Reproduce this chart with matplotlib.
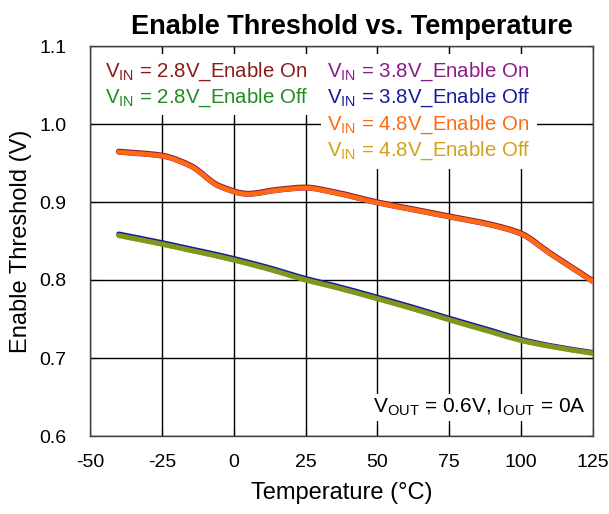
#!/usr/bin/env python3

import numpy as np
import matplotlib
matplotlib.use('Agg')
import matplotlib.pyplot as plt
from matplotlib.path import Path
from matplotlib.patches import PathPatch
from matplotlib.lines import Line2D

plt.rcParams['font.family'] = ['Liberation Sans', 'DejaVu Sans']
plt.rcParams['mathtext.fontset'] = 'custom'
plt.rcParams['mathtext.rm'] = 'Liberation Sans'
plt.rcParams['axes.unicode_minus'] = False

# temperature sweep (degC)
temps = [-40, -25, -15, -5, 5, 15, 25, 35, 50, 62.5, 75, 90, 100, 110, 125]

# enable threshold (V) per input voltage
on_28 = [0.965, 0.960, 0.947, 0.921, 0.911, 0.916, 0.919, 0.913, 0.900, 0.891, 0.882, 0.871, 0.860, 0.835, 0.799]
on_38 = [0.964, 0.959, 0.946, 0.920, 0.910, 0.915, 0.918, 0.912, 0.899, 0.890, 0.881, 0.870, 0.859, 0.834, 0.798]
on_48 = [0.964, 0.959, 0.946, 0.920, 0.910, 0.915, 0.918, 0.912, 0.899, 0.890, 0.881, 0.870, 0.859, 0.834, 0.798]
off_28 = [0.857, 0.846, 0.838, 0.830, 0.821, 0.811, 0.800, 0.791, 0.776, 0.763, 0.749, 0.733, 0.7225, 0.715, 0.706]
off_38 = [0.859, 0.848, 0.840, 0.832, 0.823, 0.813, 0.802, 0.793, 0.778, 0.765, 0.751, 0.735, 0.724, 0.716, 0.707]
off_48 = [0.857, 0.846, 0.838, 0.830, 0.821, 0.811, 0.800, 0.791, 0.776, 0.763, 0.749, 0.733, 0.7225, 0.715, 0.706]

xticks = [-50, -25, 0, 25, 50, 75, 100, 125]
yticks = [0.6, 0.7, 0.8, 0.9, 1.0, 1.1]


def smooth_path(x, y):
    # monotone cubic (Fritsch-Carlson) segments written as bezier curves
    x = np.asarray(x, float)
    y = np.asarray(y, float)
    h = np.diff(x)
    d = np.diff(y) / h
    m = np.zeros_like(y)
    m[0], m[-1] = d[0], d[-1]
    for k in range(1, len(x) - 1):
        if d[k - 1] * d[k] <= 0:
            m[k] = 0.0
        else:
            w1 = 2 * h[k] + h[k - 1]
            w2 = h[k] + 2 * h[k - 1]
            m[k] = (w1 + w2) / (w1 / d[k - 1] + w2 / d[k])
    verts = [(x[0], y[0])]
    codes = [Path.MOVETO]
    for k in range(len(x) - 1):
        verts += [(x[k] + h[k] / 3, y[k] + m[k] * h[k] / 3),
                  (x[k + 1] - h[k] / 3, y[k + 1] - m[k + 1] * h[k] / 3),
                  (x[k + 1], y[k + 1])]
        codes += [Path.CURVE4] * 3
    return Path(verts, codes)


def draw_series(ax, y, color, lw, alpha=1.0, z=3):
    patch = PathPatch(smooth_path(temps, y), facecolor='none', edgecolor=color,
                      lw=lw, alpha=alpha, capstyle='round', joinstyle='round', zorder=z)
    ax.add_patch(patch)


fig = plt.figure(figsize=(6.09, 5.14), dpi=100)
ax = fig.add_axes([90 / 609, 1 - 436 / 514, 503 / 609, 390 / 514])

ax.set_xlim(-50, 125)
ax.set_ylim(0.6, 1.1)
ax.set_xticks(xticks)
ax.set_yticks(yticks)
ax.set_yticklabels(['%.1f' % v for v in yticks])
ax.grid(True, color='black', lw=1.0)
ax.set_axisbelow(True)
ax.tick_params(direction='in', length=5, top=True, right=True, labelsize=14, colors='black')
ax.tick_params(axis='x', pad=13)
ax.tick_params(axis='y', pad=17)
for s in ax.spines.values():
    s.set_color('#404040')
    s.set_linewidth(1.0)

c_on28 = '#8b1a1a'
c_on38 = '#8b1a8b'
c_on48 = '#ff6a10'
c_off28 = '#1e8c1e'
c_off38 = '#1a1a9c'
c_off48 = '#d4a017'

draw_series(ax, on_28, c_on28, 3.8, z=3)
draw_series(ax, on_38, c_on38, 3.8, z=3.1)
draw_series(ax, on_48, c_on48, 3.4, z=3.2)
draw_series(ax, off_38, c_off38, 3.6, z=3)
draw_series(ax, off_28, c_off28, 3.6, z=3.1)
draw_series(ax, off_48, c_off48, 3.6, alpha=0.55, z=3.2)


def vin(v, state):
    return r'V$_{\mathregular{IN}}$ = %sV_Enable %s' % (v, state)


def make_legend(entries, loc, anchor):
    handles = [Line2D([], [], color=c) for _, c in entries]
    labels = [t for t, _ in entries]
    leg = ax.legend(handles, labels, loc=loc, bbox_to_anchor=anchor, bbox_transform=fig.transFigure,
                    handlelength=0, handletextpad=0, labelcolor='linecolor', fontsize=14.7,
                    frameon=True, fancybox=False, edgecolor='none', facecolor='white',
                    framealpha=1.0, labelspacing=0.2, borderpad=0.3, borderaxespad=0)
    leg.set_zorder(5)
    return leg


leg1 = make_legend([(vin('2.8', 'On'), c_on28), (vin('2.8', 'Off'), c_off28)],
                   'upper left', (99 / 609, 1 - 54 / 514))
ax.add_artist(leg1)
make_legend([(vin('3.8', 'On'), c_on38), (vin('3.8', 'Off'), c_off38),
             (vin('4.8', 'On'), c_on48), (vin('4.8', 'Off'), c_off48)],
            'upper left', (321 / 609, 1 - 54 / 514))

ax.text(0.985, 0.045, r'V$_{\mathregular{OUT}}$ = 0.6V, I$_{\mathregular{OUT}}$ = 0A',
        transform=ax.transAxes, ha='right', va='bottom', fontsize=15, zorder=5,
        bbox=dict(facecolor='white', edgecolor='none', pad=2))

fig.text(352 / 609, 1 - 34 / 514, 'Enable Threshold vs. Temperature', ha='center', va='baseline',
         fontsize=19.5, fontweight='bold')
ax.set_xlabel('Temperature (\u00b0C)', fontsize=17, labelpad=8)
ax.set_ylabel('Enable Threshold (V)', fontsize=17, labelpad=5)

fig.savefig('out.png', dpi=100)
